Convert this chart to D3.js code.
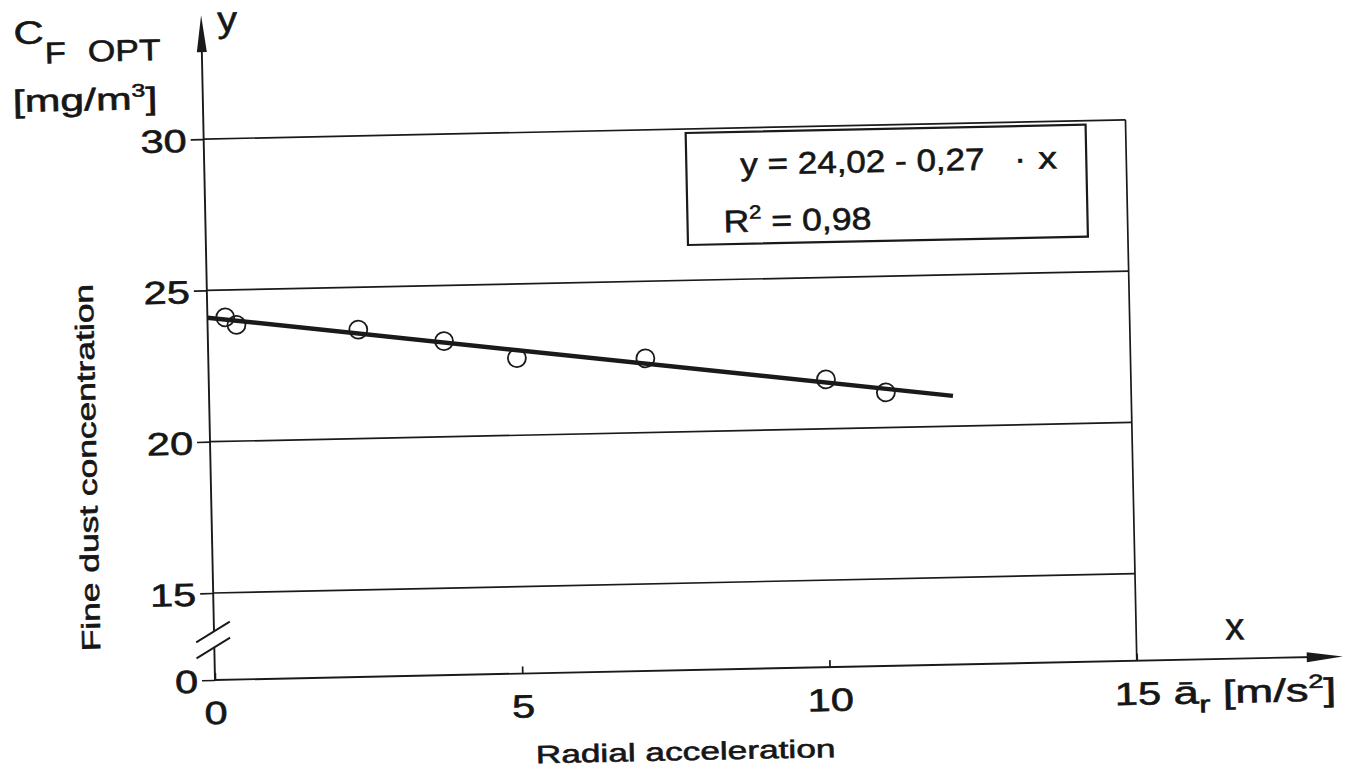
<!DOCTYPE html>
<html>
<head>
<meta charset="utf-8">
<script src="https://cdn.jsdelivr.net/npm/d3@7"></script>
<style>
	body { margin: 0; background: #fff; }
	svg { display: block; }
	text { font-family: "Liberation Sans", Arial, sans-serif; fill: #161616; stroke: #161616; stroke-width: 0.6; }
</style>
</head>
<body>
<svg id="chart" width="1366" height="770"></svg>
<script>
// values
const xTicks = [0, 5, 10, 15]
const yTicks = [0, 15, 20, 25, 30]
const gridLevels = [15, 20, 25, 30]

const accel = [0.29, 0.47, 2.45, 3.84, 5.02, 7.11, 10.04, 11.01]
const concentration = [24.1, 23.84, 23.6, 23.16, 22.55, 22.45, 21.63, 21.16]

const fitAccel = [0, 12.1]
const fitConcentration = [24.1, 21.0]

const equationText = "y = 24,02 - 0,27"
const rSquaredText = " = 0,98"

const ink = "#1a1a1a"

const svg = d3.select("#chart")
svg.append("rect").attr("width", 1366).attr("height", 770).attr("fill", "#fff")

// the original sheet sits slightly crooked on the scanner
const g = svg.append("g").attr("transform", "translate(215,680) rotate(-1.2)")

const x = d3.scaleLinear().domain([0, 15]).range([0, 922])
// broken axis: 0..15 squeezed, 15..30 full height
const y = d3.scaleLinear().domain([0, 15, 30]).range([0, -87, -541])

// the typeface of the print is much wider than Arial, so text gets stretched
function wideText(parent, str, u, v, size, sx, anchor) {
	return parent.append("text")
		.attr("transform", "translate(" + u + "," + v + ") scale(" + sx + ",1)")
		.attr("font-size", size)
		.attr("text-anchor", anchor || "start")
		.text(str)
}

// grid lines and frame
g.selectAll("line.grid")
	.data(gridLevels)
	.join("line")
	.attr("class", "grid")
	.attr("x1", 0).attr("x2", x(15))
	.attr("y1", d => y(d)).attr("y2", d => y(d))
	.attr("stroke", ink).attr("stroke-width", 1.7)

g.append("line")
	.attr("x1", x(15)).attr("x2", x(15))
	.attr("y1", y(0)).attr("y2", y(30))
	.attr("stroke", ink).attr("stroke-width", 1.7)

// y axis ticks + labels
const yAxis = g.append("g")
	.attr("font-family", null).attr("font-size", null)
	.call(d3.axisLeft(y).tickValues(yTicks).tickSize(13))
yAxis.select(".domain").remove()
yAxis.selectAll(".tick line").attr("stroke", ink).attr("stroke-width", 1.7)
yAxis.selectAll(".tick text")
	.attr("x", null).attr("dy", null)
	.attr("transform", "translate(-17,12) scale(1.3,1)")
	.attr("font-size", 32)
	.attr("fill", ink)

// x axis ticks + labels
const xAxis = g.append("g")
	.attr("font-family", null).attr("font-size", null)
	.call(d3.axisBottom(x).tickValues(xTicks).tickSize(-7))
xAxis.select(".domain").remove()
xAxis.selectAll(".tick line").attr("stroke", ink).attr("stroke-width", 1.7)
xAxis.selectAll(".tick text")
	.attr("y", null).attr("dy", null)
	.attr("transform", "translate(0,44) scale(1.3,1)")
	.attr("font-size", 32)
	.attr("fill", ink)

// axis lines with arrows, y axis broken between 0 and 15
g.append("line").attr("x1", 0).attr("x2", 0).attr("y1", 0).attr("y2", -32)
	.attr("stroke", ink).attr("stroke-width", 1.9)
g.append("line").attr("x1", 0).attr("x2", 0).attr("y1", -48).attr("y2", -640)
	.attr("stroke", ink).attr("stroke-width", 1.9)
g.append("path").attr("d", "M0,-665 L-5,-628 L5,-628 Z").attr("fill", ink)

g.append("line").attr("x1", 0).attr("x2", 1100).attr("y1", 0).attr("y2", 0)
	.attr("stroke", ink).attr("stroke-width", 1.9)
g.append("path").attr("d", "M1128,0 L1092,-5 L1092,5 Z").attr("fill", ink)

g.selectAll("line.break")
	.data([32, 48])
	.join("line")
	.attr("class", "break")
	.attr("x1", -18).attr("x2", 16)
	.attr("y1", d => -d + 10).attr("y2", d => -d - 10)
	.attr("stroke", ink).attr("stroke-width", 1.9)

// measured points and fitted line
g.selectAll("circle")
	.data(accel.map((a, i) => [a, concentration[i]]))
	.join("circle")
	.attr("cx", d => x(d[0]))
	.attr("cy", d => y(d[1]))
	.attr("r", 9)
	.attr("fill", "none")
	.attr("stroke", ink)
	.attr("stroke-width", 1.8)

g.append("path")
	.datum(fitAccel.map((a, i) => [a, fitConcentration[i]]))
	.attr("d", d3.line().x(d => x(d[0])).y(d => y(d[1])))
	.attr("fill", "none")
	.attr("stroke", ink)
	.attr("stroke-width", 4.5)

// equation box
g.append("rect")
	.attr("x", 482).attr("y", -537)
	.attr("width", 400).attr("height", 112)
	.attr("fill", "#fff")
	.attr("stroke", ink).attr("stroke-width", 2.2)

wideText(g, equationText, 536, -494, 31, 1.13)
wideText(g, "\u00b7", 810, -494, 31, 1.13)
wideText(g, "x", 834, -494, 31, 1.2)

const r2 = wideText(g, "R", 518, -437, 31, 1.15)
r2.append("tspan").attr("font-size", 19).attr("dy", -13).text("2")
r2.append("tspan").attr("dy", 13).text(rSquaredText)

// axis names
wideText(g, "y", 16, -648, 36, 1.1)
wideText(g, "x", 1011, -19, 38, 1.0)

const unit = wideText(g, "\u0101", 958, 44, 32, 1.42)
unit.append("tspan").attr("font-size", 24).attr("dy", 9).text("r")
unit.append("tspan").attr("dy", -9).text(" [m/s")
unit.append("tspan").attr("font-size", 19).attr("dy", -13).text("2")
unit.append("tspan").attr("dy", 13).text("]")

wideText(g, "C", -188, -640, 32, 1.3)
wideText(g, "F", -157, -620, 30, 1.15)
wideText(g, "OPT", -114, -621, 30, 1.18)

const conc = wideText(g, "[mg/m", -190, -572, 31, 1.38)
conc.append("tspan").attr("font-size", 18).attr("dy", -13).text("3")
conc.append("tspan").attr("dy", 13).text("]")

wideText(g, "Radial acceleration", 469, 90, 25, 1.41, "middle")

g.append("text")
	.attr("transform", "translate(-114,-215) rotate(-90) scale(1.36,1)")
	.attr("font-size", 26)
	.attr("text-anchor", "middle")
	.text("Fine dust concentration")
</script>
</body>
</html>
